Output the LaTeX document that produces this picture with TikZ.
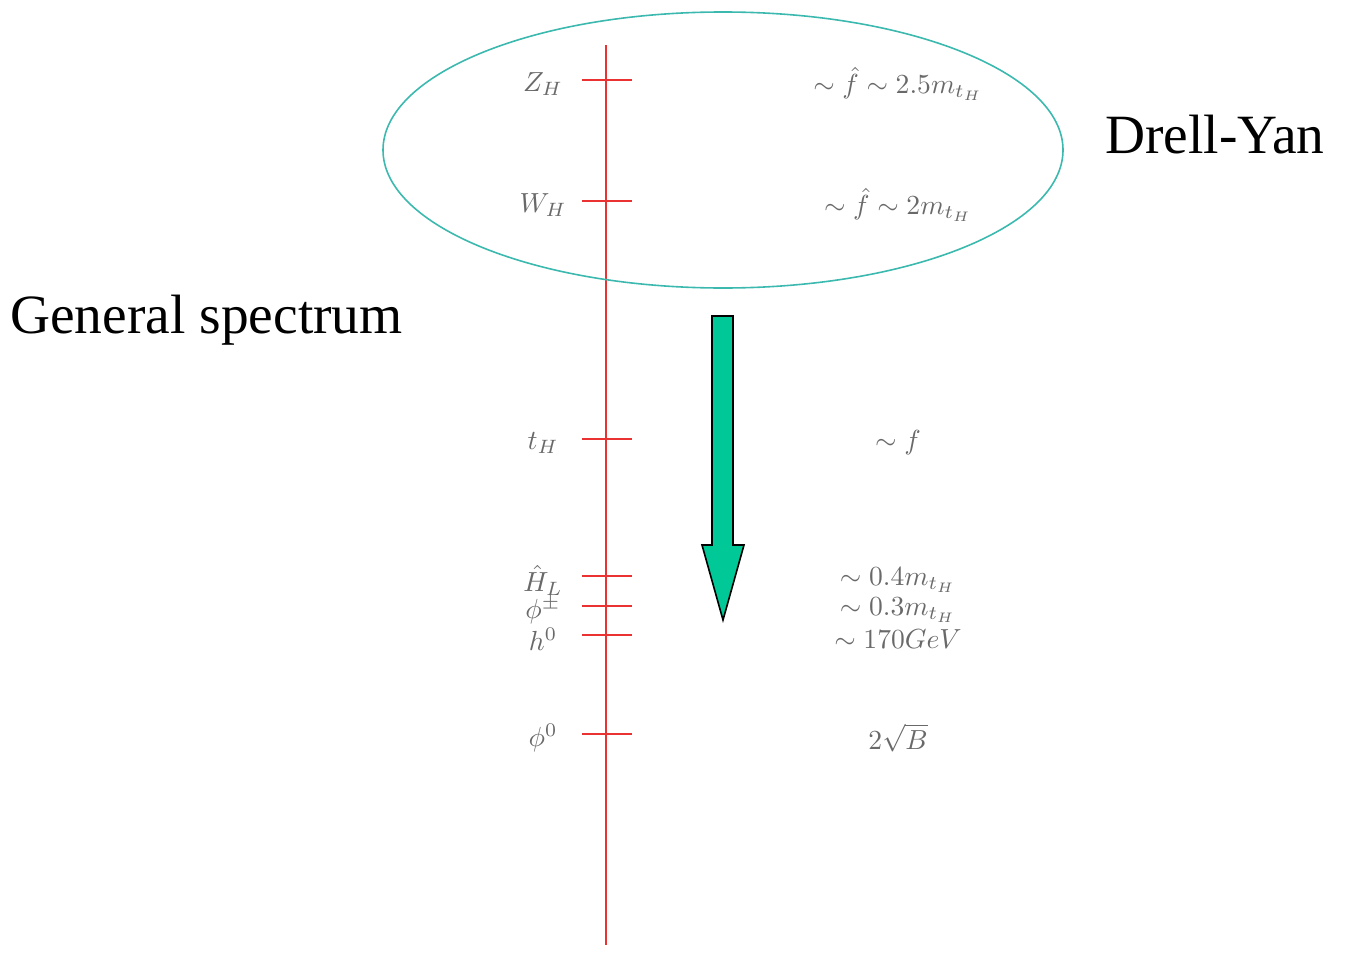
\documentclass[tikz,border=0pt]{standalone}
\usepackage{fontspec}
\usetikzlibrary{shapes.geometric}
\newfontfamily\timesfont{Liberation Serif}
\definecolor{axisred}{RGB}{235,50,50}
\definecolor{ringcol}{RGB}{60,185,175}
\definecolor{arrowfill}{RGB}{0,200,150}
\definecolor{labgray}{RGB}{105,105,105}
\begin{document}
\begin{tikzpicture}[x=0.5pt,y=-0.5pt,
  tick/.style={draw=axisred,line width=0.7pt},
  lab/.style={text=labgray,inner sep=0pt,scale=1.38},
  big/.style={inner sep=0pt,anchor=base west,font=\timesfont\fontsize{27.7}{32}\selectfont}]
\useasboundingbox (0,0) rectangle (1348,953);
% axis
\coordinate (top) at (606,45);
\coordinate (bot) at (606,945);
\draw[tick] (top) -- (bot);
% ticks and labels
\foreach \n/\y/\l/\r in {z/80/{Z_H}/{\sim\hat f\sim 2.5m_{t_H}},
                         w/201/{W_H}/{\sim\hat f\sim 2m_{t_H}},
                         t/439/{t_H}/{\sim f},
                         hl/576/{\hat H_L}/{\sim 0.4m_{t_H}},
                         phi/606/{\phi^\pm}/{\sim 0.3m_{t_H}},
                         h/635/{h^0}/{\sim 170GeV},
                         p0/734/{\phi^0}/{2\sqrt{B}}}{
  \coordinate (\n a) at (582,\y);
  \coordinate (\n b) at (632,\y);
  \draw[tick] (\n a) -- (\n b);
  \node[lab] (\n L) at (543,\y+4) {$\l$};
  \node[lab] (\n R) at (898,\y+4) {$\r$};
}
% ellipse
\node[draw=ringcol,line width=0.8pt,ellipse,minimum width=340pt,minimum height=138pt,inner sep=0pt] (ring) at (723,150) {};
% arrow
\path[draw=black,line width=0.8pt,fill=arrowfill]
  (712,316) -- (733,316) -- (733,545) -- (744,545) -- (723,620) -- (702,545) -- (712,545) -- cycle;
% big texts
\node[big] (gs) at (10,333) {General spectrum};
\node[big] (dy) at (1105,153) {Drell-Yan};
\end{tikzpicture}
\end{document}
